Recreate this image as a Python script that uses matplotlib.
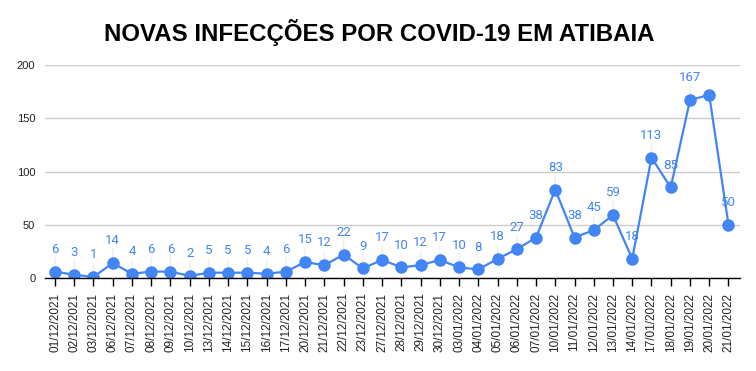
import matplotlib
matplotlib.use('Agg')
import matplotlib.pyplot as plt

dates = ['01/12/2021', '02/12/2021', '03/12/2021', '06/12/2021', '07/12/2021', '08/12/2021',
         '09/12/2021', '10/12/2021', '13/12/2021', '14/12/2021', '15/12/2021', '16/12/2021',
         '17/12/2021', '20/12/2021', '21/12/2021', '22/12/2021', '23/12/2021', '27/12/2021',
         '28/12/2021', '29/12/2021', '30/12/2021', '03/01/2022', '04/01/2022', '05/01/2022',
         '06/01/2022', '07/01/2022', '10/01/2022', '11/01/2022', '12/01/2022', '13/01/2022',
         '14/01/2022', '17/01/2022', '18/01/2022', '19/01/2022', '20/01/2022', '21/01/2022']
cases = [6, 3, 1, 14, 4, 6, 6, 2, 5, 5, 5, 4, 6, 15, 12, 22, 9, 17, 10, 12, 17, 10, 8, 18,
         27, 38, 83, 38, 45, 59, 18, 113, 85, 167, 172, 50]
# the 20/01 point has no label in the original
show_label = [True] * len(cases)
show_label[34] = False

plt.rcParams['font.family'] = ['Liberation Sans', 'DejaVu Sans']

blue = '#4285f4'
fig = plt.figure(figsize=(7.56, 3.71), dpi=100)
ax = fig.add_axes([45 / 756, 1 - 278 / 371, 695 / 756, 213 / 371])

x = list(range(len(cases)))
ax.plot(x, cases, color=blue, linewidth=1.6, marker='o', markersize=8, zorder=3)

for xi, yi, show in zip(x, cases, show_label):
    if not show:
        continue
    ax.annotate(str(yi), (xi, yi), xytext=(0, 16), textcoords='offset points',
                ha='center', va='center', fontsize=9.5, color=blue,
                family=['Roboto', 'DejaVu Sans'], zorder=4)
    ax.annotate('', (xi, yi), xytext=(0, 10), textcoords='offset points',
                arrowprops=dict(arrowstyle='-', color='#eeeeee', lw=1, shrinkA=0, shrinkB=0),
                zorder=1)

ax.set_xlim(-0.52, 35.6)
ax.set_ylim(0, 200)
ax.set_yticks([0, 50, 100, 150, 200])
ax.yaxis.grid(True, color='#cccccc', linewidth=1)
ax.set_axisbelow(True)
ax.tick_params(axis='y', length=0, labelsize=8, labelcolor='#222222', pad=7)

ax.set_xticks(x)
ax.set_xticklabels(dates, rotation=90, fontsize=8.5, color='#222222')
ax.tick_params(axis='x', direction='out', length=6, width=1, color='black', pad=4.5)

for side in ['top', 'right', 'left']:
    ax.spines[side].set_visible(False)
ax.spines['bottom'].set_color('black')
ax.spines['bottom'].set_linewidth(1)
ax.spines['bottom'].set_zorder(5)

fig.text(0.502, 1 - 33 / 371, 'NOVAS INFECÇÕES POR COVID-19 EM ATIBAIA', ha='center', va='center',
         fontsize=17.3, fontweight='bold', color='black')

fig.savefig('out.png', dpi=100)
